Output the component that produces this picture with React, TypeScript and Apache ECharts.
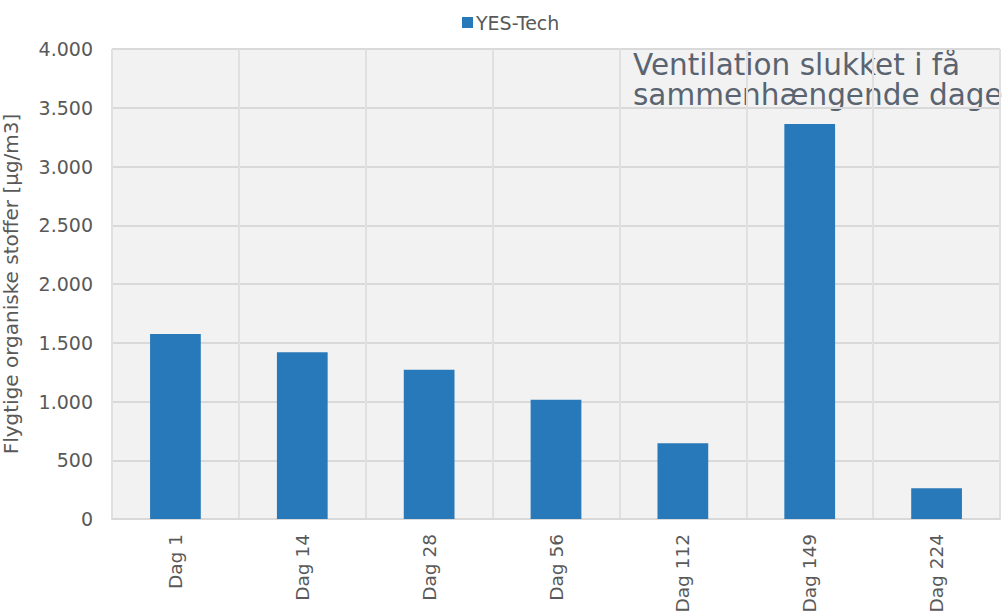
import React, { useEffect, useRef } from "react";
import * as echarts from "echarts";

const categories = ["Dag 1", "Dag 14", "Dag 28", "Dag 56", "Dag 112", "Dag 149", "Dag 224"];
const values = [1575, 1420, 1270, 1015, 645, 3362, 262];
const seriesName = "YES-Tech";
const yTitle = "Flygtige organiske stoffer [µg/m3]";
const annotation = "Ventilation slukket i få\nsammenhængende dage";

export default function App() {
  const ref = useRef<HTMLDivElement>(null);
  useEffect(() => {
    if (!ref.current) return;
    const chart = echarts.init(ref.current, undefined, { renderer: "svg" });
    const font = "DejaVu Sans, Verdana, sans-serif";
    chart.setOption({
      animation: false,
      textStyle: { fontFamily: font },
      legend: {
        top: 8,
        left: 457,
        itemWidth: 11,
        itemHeight: 11,
        itemGap: 4,
        icon: "rect",
        textStyle: { color: "#595959", fontSize: 19, fontFamily: font, padding: [0, 0, 0, -2] },
        data: [seriesName],
      },
      grid: {
        left: 112,
        right: 2,
        top: 49,
        bottom: 93,
        containLabel: false,
        outerBoundsMode: "none",
        show: true,
        backgroundColor: "#f2f2f2",
        borderColor: "#e0e0e0",
        borderWidth: 1,
      },
      xAxis: {
        type: "category",
        data: categories,
        boundaryGap: true,
        axisLine: { show: true, lineStyle: { color: "#d9d9d9", width: 2 } },
        axisTick: { show: false },
        splitLine: { show: true, lineStyle: { color: "#e0e0e0", width: 2 } },
        axisLabel: { rotate: 90, color: "#595959", fontSize: 18.5, margin: 15, fontFamily: font },
      },
      yAxis: {
        type: "value",
        min: 0,
        max: 4000,
        interval: 500,
        name: yTitle,
        nameLocation: "middle",
        nameGap: 91,
        nameTextStyle: { color: "#595959", fontSize: 20, fontFamily: font },
        axisLine: { show: false },
        axisTick: { show: false },
        splitLine: { show: true, lineStyle: { color: "#d9d9d9", width: 2 } },
        axisLabel: {
          color: "#595959",
          fontSize: 19,
          margin: 19,
          fontFamily: font,
          formatter: (v: number) => (v >= 1000 ? `${Math.floor(v / 1000)}.${String(v % 1000).padStart(3, "0")}` : String(v)),
        },
      },
      graphic: [
        {
          type: "text",
          left: 633,
          top: 50,
          style: {
            text: annotation,
            fill: "#5a6470",
            fontSize: 29.5,
            lineHeight: 29.5,
            fontFamily: font,
          },
        },
      ],
      series: [
        {
          name: seriesName,
          type: "bar",
          data: values,
          barWidth: "40%",
          itemStyle: { color: "#2879b9" },
        },
      ],
    });
    return () => chart.dispose();
  }, []);
  return <div ref={ref} style={{ width: 1002, height: 612, position: "absolute", left: 0, top: 0 }} />;
}
